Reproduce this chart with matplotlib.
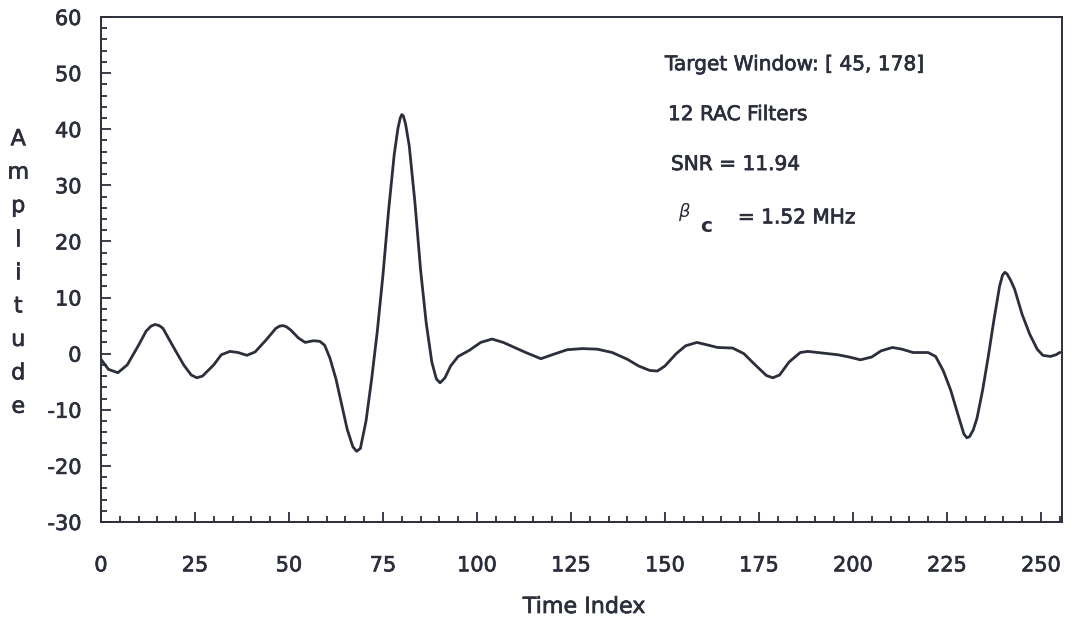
import matplotlib
matplotlib.use("Agg")
import matplotlib.pyplot as plt
import matplotlib.patheffects as pe
from matplotlib.ticker import MultipleLocator

plt.rcParams['font.family'] = ['DejaVu Sans']
plt.rcParams['axes.unicode_minus'] = False

# filter output, read point by point
time_index = [0, 2, 4.5, 7, 10, 12, 13.3, 14.4, 15.5, 16.5, 19, 22, 24, 25.5, 27, 30,
              32, 34.3, 36.5, 38.8, 41, 44, 46.5, 47.5, 48.4, 49.3, 50.5, 52.5, 54.3,
              56.5, 58.2, 59.5, 60.9, 62.5, 64, 65.5, 67, 68, 69, 70.5, 72, 73.5, 75,
              76.5, 78, 79, 79.6, 80, 80.4, 81, 82, 83.5, 85, 86.5, 88, 89.2, 90.2,
              91.5, 93, 95, 98, 101, 104, 107, 110, 113, 117, 120, 124, 128, 132, 136,
              140, 143, 146, 148, 150, 153, 155.5, 158.5, 161, 164, 168, 171, 174, 177,
              178.7, 180.5, 183, 186, 188, 192, 196, 199, 202, 205, 207.5, 210.5, 213,
              216, 220, 222, 224, 226, 228, 229.5, 230.3, 231, 232, 233, 234.5, 236,
              237.5, 239, 239.8, 240.4, 241, 242, 243, 245, 247, 249, 250.5, 252.5,
              254, 255]
amplitude = [-1.0, -2.8, -3.4, -2.0, 1.5, 4.0, 4.9, 5.2, 5.0, 4.5, 1.5, -2.0, -3.8,
             -4.3, -4.0, -2.0, -0.2, 0.4, 0.2, -0.3, 0.3, 2.5, 4.5, 4.9, 5.0, 4.8,
             4.2, 2.8, 2.0, 2.3, 2.2, 1.5, -0.8, -4.5, -9.0, -13.5, -16.6, -17.4,
             -16.9, -12.0, -4.5, 4.0, 14.0, 25.5, 35.5, 40.2, 42.0, 42.6, 42.4, 41.0,
             37.0, 27.0, 15.0, 5.5, -1.5, -4.5, -5.2, -4.3, -2.2, -0.5, 0.6, 2.0, 2.6,
             2.0, 1.1, 0.2, -0.9, -0.2, 0.7, 0.9, 0.8, 0.2, -1.0, -2.2, -3.0, -3.1,
             -2.2, 0.0, 1.4, 2.0, 1.6, 1.1, 1.0, 0.0, -2.0, -3.9, -4.3, -3.8, -1.5,
             0.2, 0.4, 0.1, -0.2, -0.6, -1.1, -0.6, 0.5, 1.1, 0.8, 0.2, 0.2, -0.5,
             -3.0, -6.5, -11.0, -14.3, -15.0, -14.8, -13.6, -11.5, -6.5, -0.5, 6.0,
             12.0, 14.0, 14.5, 14.2, 13.0, 11.5, 7.0, 3.5, 0.8, -0.3, -0.5, -0.2, 0.2]

info_lines = ["Target Window: [ 45, 178]", "12 RAC Filters", "SNR = 11.94"]
ink = "#2b2e3b"
heavy = [pe.withStroke(linewidth=0.5, foreground=ink)]

fig = plt.figure(figsize=(10.74, 6.22), dpi=100)
ax = fig.add_axes([0.094, 0.1608, 0.8948, 0.8119])

ax.plot(time_index, amplitude, color=ink, lw=2.0, solid_joinstyle='round')

ax.set_xlim(0, 255.6)
ax.set_ylim(-30, 60)
ax.xaxis.set_major_locator(MultipleLocator(25))
ax.xaxis.set_minor_locator(MultipleLocator(5))
ax.yaxis.set_major_locator(MultipleLocator(10))
ax.yaxis.set_minor_locator(MultipleLocator(2))
ax.tick_params(which='both', direction='in', colors=ink, width=1.3,
               top=False, right=False, labelsize=15)
ax.tick_params(which='major', length=7)
ax.tick_params(which='minor', length=4)
ax.tick_params(axis='x', pad=24)
ax.tick_params(axis='y', pad=14)
for sp in ax.spines.values():
    sp.set_color(ink)
    sp.set_linewidth(1.4)
for lab in ax.get_xticklabels() + ax.get_yticklabels():
    lab.set_path_effects(heavy)

fig.text(0.544, 1 - 607 / 622, "Time Index", ha='center', va='center', fontsize=16,
         color=ink, path_effects=heavy)
fig.text(0.017, 1 - 273 / 622, "\n".join("Amplitude"), ha='center', va='center',
         fontsize=16, color=ink, linespacing=1.84, path_effects=heavy)

for i, line in enumerate(info_lines):
    ax.text(150 + 0.8 * i, 51.5 - 8.9 * i, line, fontsize=14.5, color=ink,
            va='center', path_effects=heavy)
ax.text(153.5, 25.3, r"$\beta$", fontsize=13, color=ink, va='center')
ax.text(159.3, 22.6, "c", fontsize=14.5, color=ink, va='center', fontweight='bold')
ax.text(169.4, 24.2, "= 1.52 MHz", fontsize=14.5, color=ink, va='center',
        path_effects=heavy)

fig.savefig("out.png", dpi=100)
